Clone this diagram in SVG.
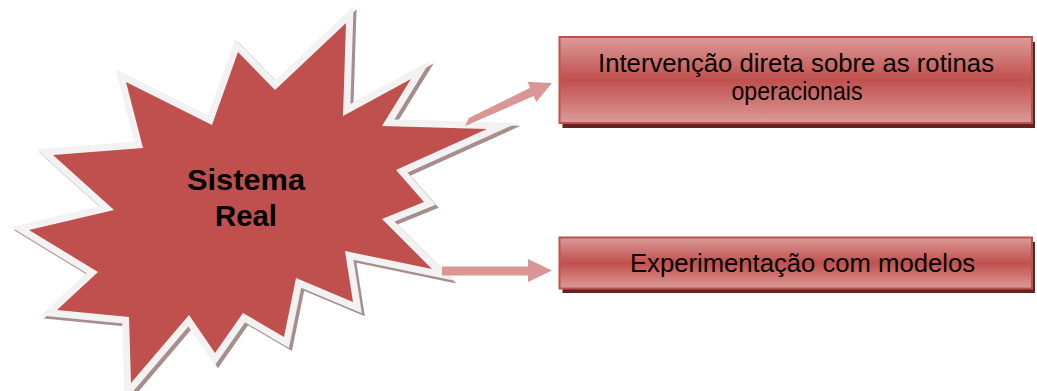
<svg xmlns="http://www.w3.org/2000/svg" width="1037" height="391" viewBox="0 0 1037 391">
  <defs>
    <linearGradient id="boxGrad" x1="0" y1="0" x2="0" y2="1">
      <stop offset="0" stop-color="#dc9b99"/>
      <stop offset="0.5" stop-color="#c0504d"/>
      <stop offset="1" stop-color="#dc9b99"/>
    </linearGradient>
    <polygon id="starShape" points="346,23 343,116 411,79 382,126 487,129 396,170 424,202 382,219 432,269 345,251 353,302 296,278 284,337 243,313 215,353 189,315 131,383 129,317 57,310 98,272 29,230 114,210 53,155 143,148 126,82 212,125 238,52 275,90"/>
  </defs>
  <style>
    .star-shadow { fill: #a88d8d; stroke: #a88d8d; stroke-width: 14; stroke-linejoin: miter; stroke-miterlimit: 30; }
    .star-rim { fill: #f2f2f2; stroke: #f2f2f2; stroke-width: 14; stroke-linejoin: miter; stroke-miterlimit: 30; }
    .star-fill { fill: #c0504d; }
    .box { fill: url(#boxGrad); stroke: #c0504d; stroke-width: 2; }
    .box-shadow { fill: #632523; }
    .arrow { fill: #d99694; }
    .label { font-family: "Liberation Sans", Arial, sans-serif; font-size: 25px; fill: #000; text-anchor: middle; }
    .title { font-family: "Liberation Sans", Arial, sans-serif; font-size: 30px; font-weight: bold; fill: #000; text-anchor: middle; }
  </style>

  <g id="sistema-real">
    <use href="#starShape" class="star-shadow" transform="translate(3,3)"/>
    <use href="#starShape" class="star-rim"/>
    <use href="#starShape" class="star-fill"/>
    <text class="title" x="246" y="190" textLength="118" lengthAdjust="spacingAndGlyphs">Sistema</text>
    <text class="title" x="246" y="226" textLength="62" lengthAdjust="spacingAndGlyphs">Real</text>
  </g>

  <g id="connectors">
    <polygon class="arrow" points="465.2,126.1 468.8,117.9 530.1,87.8 527.5,81.8 552,83 536.3,102 533.7,96"/>
    <polygon class="arrow" points="442,266.5 528,266.5 528,259 552,270.5 528,282 528,275.5 442,275.5"/>
  </g>

  <g id="intervencao">
    <rect class="box-shadow" x="562.5" y="42" width="472.5" height="86"/>
    <rect class="box" x="559.5" y="37" width="472.5" height="86"/>
    <text class="label" x="796" y="72" textLength="396" lengthAdjust="spacingAndGlyphs">Intervenção direta sobre as rotinas</text>
    <text class="label" x="797" y="100" textLength="131" lengthAdjust="spacingAndGlyphs">operacionais</text>
  </g>

  <g id="experimentacao">
    <rect class="box-shadow" x="562.5" y="242" width="472.5" height="51"/>
    <rect class="box" x="559.5" y="237.5" width="472.5" height="51"/>
    <text class="label" x="802.5" y="272" textLength="345" lengthAdjust="spacingAndGlyphs">Experimentação com modelos</text>
  </g>
</svg>
